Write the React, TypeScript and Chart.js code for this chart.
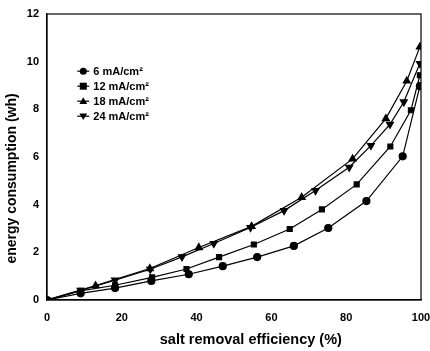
import React, { useEffect, useRef } from "react";
import { Chart, registerables } from "chart.js";

Chart.register(...registerables);

const seriesLabels = ["6 mA/cm²", "12 mA/cm²", "18 mA/cm²", "24 mA/cm²"];
const xTitle = "salt removal efficiency (%)";
const yTitle = "energy consumption (wh)";

const x6 = [0, 9, 18.2, 27.9, 37.9, 47, 56.2, 66, 75.2, 85.4, 95.1, 99.7];
const y6 = [0, 0.28, 0.5, 0.8, 1.08, 1.42, 1.8, 2.27, 3.02, 4.15, 6.03, 8.97];

const x12 = [0, 9, 18.2, 28.1, 37.3, 46, 55.3, 64.9, 73.5, 82.8, 91.8, 97.3, 99.7];
const y12 = [0, 0.38, 0.62, 0.95, 1.3, 1.8, 2.33, 2.98, 3.8, 4.85, 6.44, 7.96, 9.43];

const x18 = [0, 13, 27.5, 40.6, 54.7, 68.1, 81.7, 90.6, 96.2, 99.7];
const y18 = [0, 0.6, 1.32, 2.2, 3.09, 4.31, 5.92, 7.61, 9.19, 10.62];

const x24 = [0, 9, 18.2, 27.6, 36.1, 44.6, 54.4, 63.4, 71.8, 80.8, 86.6, 91.7, 95.4, 99.7];
const y24 = [0, 0.4, 0.83, 1.29, 1.81, 2.37, 3.04, 3.75, 4.59, 5.57, 6.48, 7.37, 8.31, 9.92];

const xTicks = [0, 20, 40, 60, 80, 100];
const yTicks = [0, 2, 4, 6, 8, 10, 12];

const FONT = "'Liberation Sans', Arial, sans-serif";

const pts = (xs: number[], ys: number[]) => xs.map((x, i) => ({ x, y: ys[i] }));

const frameAndLegend = {
  id: "frameAndLegend",
  afterDraw(chart: any) {
    const { ctx, chartArea } = chart;
    ctx.save();
    ctx.strokeStyle = "#000";
    ctx.lineWidth = 1.2;
    ctx.strokeRect(chartArea.left, chartArea.top, chartArea.right - chartArea.left, chartArea.bottom - chartArea.top);
    // axis titles (placed off-centre as in the original)
    ctx.fillStyle = "#000";
    ctx.font = `bold 14.5px ${FONT}`;
    ctx.textAlign = "center";
    ctx.textBaseline = "middle";
    ctx.fillText(xTitle, chart.scales.x.getPixelForValue(54.5), 340);
    ctx.save();
    ctx.translate(12, chart.scales.y.getPixelForValue(5.1));
    ctx.rotate(-Math.PI / 2);
    ctx.font = `bold 14px ${FONT}`;
    ctx.fillText(yTitle, 0, 0);
    ctx.restore();
    // legend
    const x0 = chart.scales.x.getPixelForValue(9.7);
    const yTop = chart.scales.y.getPixelForValue(9.6);
    chart.data.datasets.forEach((ds: any, i: number) => {
      const y = yTop + i * 15;
      ctx.strokeStyle = "#000";
      ctx.lineWidth = 1.2;
      ctx.beginPath();
      ctx.moveTo(x0 - 6, y);
      ctx.lineTo(x0 + 6, y);
      ctx.stroke();
      ctx.fillStyle = "#000";
      const r = 3.5;
      const style = ds.pointStyle;
      const rot = ds.pointRotation || 0;
      ctx.beginPath();
      if (style === "circle") {
        ctx.arc(x0, y, r, 0, Math.PI * 2);
      } else if (style === "rect") {
        ctx.rect(x0 - r, y - r, r * 2, r * 2);
      } else {
        const d = rot === 180 ? -1 : 1;
        ctx.moveTo(x0, y - d * r * 1.1);
        ctx.lineTo(x0 - r * 1.1, y + d * r * 0.8);
        ctx.lineTo(x0 + r * 1.1, y + d * r * 0.8);
        ctx.closePath();
      }
      ctx.fill();
      ctx.font = `bold 11px ${FONT}`;
      ctx.textBaseline = "middle";
      ctx.textAlign = "left";
      ctx.fillText(ds.label, x0 + 10, y + 1);
    });
    ctx.restore();
  },
};

export default function App() {
  const ref = useRef<HTMLCanvasElement | null>(null);
  useEffect(() => {
    if (!ref.current) return;
    const common = {
      borderColor: "#000",
      backgroundColor: "#000",
      pointBackgroundColor: "#000",
      pointBorderColor: "#000",
      borderWidth: 1.2,
      pointRadius: 3.5,
      showLine: true,
      tension: 0,
    };
    const chart = new Chart(ref.current, {
      type: "scatter",
      data: {
        datasets: [
          { ...common, label: seriesLabels[0], data: pts(x6, y6), pointStyle: "circle" },
          { ...common, label: seriesLabels[1], data: pts(x12, y12), pointStyle: "rect" },
          { ...common, label: seriesLabels[2], data: pts(x18, y18), pointStyle: "triangle", pointRadius: 4 },
          { ...common, label: seriesLabels[3], data: pts(x24, y24), pointStyle: "triangle", pointRotation: 180, pointRadius: 4 },
        ],
      } as any,
      options: {
        animation: false,
        responsive: false,
        maintainAspectRatio: false,
        layout: { padding: { top: 14, right: 0, left: 0, bottom: 0 } },
        plugins: { legend: { display: false }, tooltip: { enabled: false } },
        scales: {
          x: {
            type: "linear",
            min: 0,
            max: 100,
            afterBuildTicks: (s: any) => {
              s.ticks = xTicks.map((v) => ({ value: v }));
            },
            afterFit: (s: any) => {
              s.height = 51;
              s.paddingRight = 9;
            },
            grid: { display: false, drawTicks: true, tickLength: 4, tickColor: "#000" },
            border: { display: true, color: "#000", width: 1.2 },
            ticks: { color: "#000", font: { family: FONT, size: 11, weight: "bold" }, padding: 7, maxRotation: 0 },
            title: { display: false },
          },
          y: {
            type: "linear",
            min: 0,
            max: 12,
            afterBuildTicks: (s: any) => {
              s.ticks = yTicks.map((v) => ({ value: v }));
            },
            afterFit: (s: any) => {
              s.width = 47;
            },
            grid: { display: false, drawTicks: true, tickLength: 4, tickColor: "#000" },
            border: { display: true, color: "#000", width: 1.2 },
            ticks: { color: "#000", font: { family: FONT, size: 11, weight: "bold" }, padding: 4 },
            title: { display: false },
          },
        },
      } as any,
      plugins: [frameAndLegend],
    });
    return () => chart.destroy();
  }, []);
  return (
    <div style={{ position: "fixed", left: 0, top: 0, width: 430, height: 351, background: "#fff" }}>
      <canvas ref={ref} width={430} height={351} style={{ display: "block", width: 430, height: 351 }} />
    </div>
  );
}
